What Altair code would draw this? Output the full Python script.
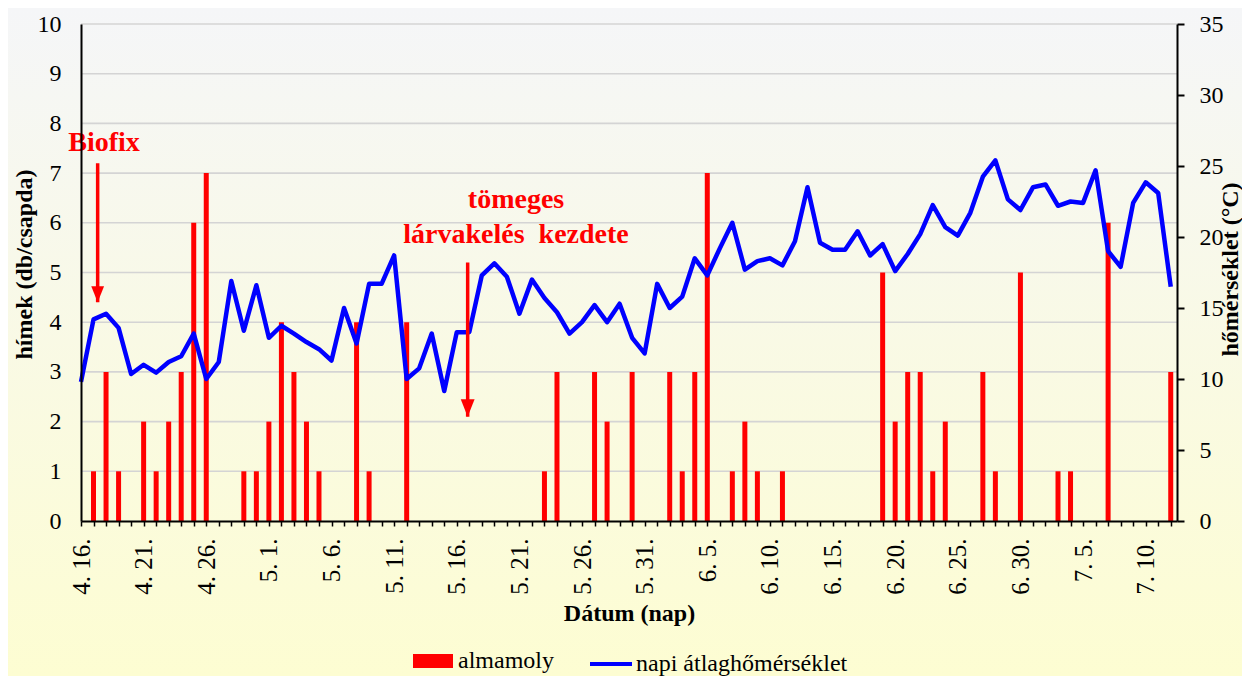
import altair as alt
import pandas as pd

# ---------------- data ----------------
start_date = "2010-04-16"
n_days = 88
day_index = list(range(n_days))
day_labels = [f"{d.month}. {d.day}." for d in pd.date_range(start_date, periods=n_days)]

# almamoly (male moths per trap) per day
moths = [0, 1, 3, 1, 0, 2, 1, 2, 3, 6,
         7, 0, 0, 1, 1, 2, 4, 3, 2, 1,
         0, 0, 4, 1, 0, 0, 4, 0, 0, 0,
         0, 0, 0, 0, 0, 0, 0, 1, 3, 0,
         0, 3, 2, 0, 3, 0, 0, 3, 1, 3,
         7, 0, 1, 2, 1, 0, 1, 0, 0, 0,
         0, 0, 0, 0, 5, 2, 3, 3, 1, 2,
         0, 0, 3, 1, 0, 5, 0, 0, 1, 1,
         0, 0, 6, 0, 0, 0, 0, 3]

# napi átlaghőmérséklet (°C)
temps = [9.8, 14.2, 14.6, 13.6, 10.35, 11.0, 10.45, 11.2, 11.6, 13.2,
         10.0, 11.2, 16.9, 13.4, 16.6, 12.9, 13.75, 13.2, 12.6, 12.1,
         11.3, 15.0, 12.5, 16.7, 16.7, 18.7, 10.0, 10.75, 13.2, 9.15,
         13.3, 13.3, 17.3, 18.15, 17.2, 14.6, 17.0, 15.7, 14.7, 13.2,
         14.0, 15.2, 14.0, 15.3, 12.9, 11.8, 16.7, 15.0, 15.8, 18.5,
         17.3, 19.2, 21.0, 17.7, 18.3, 18.5, 18.0, 19.7, 23.5, 19.6,
         19.1, 19.1, 20.4, 18.7, 19.5, 17.6, 18.8, 20.2, 22.25, 20.7,
         20.1, 21.7, 24.25, 25.4, 22.65, 21.9, 23.5, 23.7, 22.2, 22.5,
         22.4, 24.7, 19.0, 17.9, 22.4, 23.85, 23.1, 16.5]

tick_labels = ["4. 16.", "4. 21.", "4. 26.", "5. 1.", "5. 6.", "5. 11.",
               "5. 16.", "5. 21.", "5. 26.", "5. 31.", "6. 5.", "6. 10.",
               "6. 15.", "6. 20.", "6. 25.", "6. 30.", "7. 5.", "7. 10."]

left_ticks = list(range(11))
right_ticks = [0, 5, 10, 15, 20, 25, 30, 35]

series_bar = "almamoly"
series_line = "napi átlaghőmérséklet"

annot_text = ["Biofix", "tömeges", "lárvakelés\u00a0 kezdete"]
annot_x = [1.84, 34.73, 34.73]
annot_y = [7.44, 6.30, 5.59]

arrow_x = [1.33, 30.87]
arrow_top = [7.2, 5.2]
arrow_tip = [4.4, 2.1]
arrow_head = [256, 300]

# ---------------- layout ----------------
W, H = 1096, 497
PAD = {"left": 73, "top": 16, "right": 65, "bottom": 155}
FONT = "Liberation Serif"

df = pd.DataFrame({"day": day_index, "label": day_labels, "moths": moths,
                   "temp": temps, "sb": series_bar, "sl": series_line})
ann = pd.DataFrame({"x": annot_x, "y": annot_y, "t": annot_text})
arr = pd.DataFrame({"x": arrow_x, "top": arrow_top, "tip": arrow_tip, "size": arrow_head})
grid_df = pd.DataFrame({"g": left_ticks[1:]})

label_arr = "[" + ",".join(f"'{t}'" for t in tick_labels) + "]"
x_scale = alt.Scale(domain=[0, 87.5], nice=False, zero=False, padding=0)
x_axis = alt.Axis(values=day_index,
                  labelExpr=f"datum.value % 5 === 0 ? {label_arr}[datum.value / 5] : ''",
                  labelAngle=270, labelFont=FONT, labelFontSize=25, labelColor="black",
                  labelPadding=12, labelOverlap=False, labelFlush=False,
                  tickSize=5, tickColor="black", tickWidth=1.5,
                  domainColor="black", domainWidth=2, grid=False, zindex=1,
                  title="Dátum (nap)", titleFont=FONT, titleFontSize=24,
                  titleFontWeight="bold", titleColor="black",
                  titleY=99, titleBaseline="alphabetic")
X = alt.X("day:Q", scale=x_scale, axis=x_axis)

left_axis = alt.Axis(orient="left", values=left_ticks, grid=False, ticks=False, zindex=1,
                     labelPadding=20, labelFont=FONT, labelFontSize=24, labelColor="black",
                     domainColor="black", domainWidth=2,
                     title="hímek (db/csapda)", titleFont=FONT, titleFontSize=24,
                     titleFontWeight="bold", titleColor="black", titleAngle=270,
                     titleX=-50, titleY=240, titleBaseline="alphabetic", titleAlign="center")

right_axis = alt.Axis(orient="right", values=right_ticks, grid=False, zindex=1,
                      tickSize=7, tickColor="black", tickWidth=2,
                      labelPadding=15, labelFont=FONT, labelFontSize=24, labelColor="black",
                      domainColor="black", domainWidth=2,
                      title="hőmérséklet (°C)", titleFont=FONT, titleFontSize=24,
                      titleFontWeight="bold", titleColor="black", titleAngle=270,
                      titleX=60, titleY=245, titleBaseline="alphabetic", titleAlign="center")

bg = alt.Chart(pd.DataFrame({"a": [0]})).mark_rect(
    fill=alt.Gradient(gradient="linear",
                      stops=[alt.GradientStop(color="#F5F6F8", offset=0),
                             alt.GradientStop(color="#FDFDD2", offset=1)],
                      x1=0, x2=0, y1=0, y2=1),
    clip=False
).encode(x=alt.value(-PAD["left"]), x2=alt.value(W + PAD["right"]),
         y=alt.value(-PAD["top"]), y2=alt.value(H + PAD["bottom"]))

ay = alt.Scale(domain=[0, 10], nice=False)

grid = alt.Chart(grid_df).mark_rule(color="#D4D4D4", strokeWidth=1.6).encode(
    y=alt.Y("g:Q", scale=ay, axis=None),
    x=alt.value(0), x2=alt.value(W))

bars = alt.Chart(df).mark_bar(size=5).encode(
    x=X,
    y=alt.Y("moths:Q", scale=ay, axis=left_axis),
    fill=alt.Fill("sb:N", scale=alt.Scale(domain=[series_bar], range=["#FF0000"]),
                  legend=alt.Legend(title=None, orient="none", legendX=332, legendY=617,
                                    symbolType="M-1,-0.35H1V0.35H-1Z", symbolSize=1600,
                                    symbolStrokeWidth=0, labelFont=FONT, labelFontSize=24,
                                    labelColor="black", labelOffset=5, labelLimit=400))
)

line = alt.Chart(df).mark_line(strokeWidth=4.5, strokeJoin="round").encode(
    x=X,
    y=alt.Y("temp:Q", scale=alt.Scale(domain=[0, 35], nice=False), axis=right_axis),
    stroke=alt.Stroke("sl:N", scale=alt.Scale(domain=[series_line], range=["#0000FF"]),
                      legend=alt.Legend(title=None, orient="none", legendX=507, legendY=617,
                                        symbolType="stroke", symbolSize=1764,
                                        symbolStrokeWidth=4, labelFont=FONT, labelFontSize=24,
                                        labelColor="black", labelOffset=2, labelLimit=400))
)

texts = alt.Chart(ann).mark_text(font=FONT, fontSize=28, fontWeight="bold", color="#FF0000",
                                 align="center", baseline="alphabetic").encode(
    x=alt.X("x:Q", scale=x_scale, axis=x_axis),
    y=alt.Y("y:Q", scale=ay, axis=None),
    text="t:N")

shafts = alt.Chart(arr).mark_rule(color="#FF0000", strokeWidth=3.5).encode(
    x=alt.X("x:Q", scale=x_scale, axis=x_axis),
    y=alt.Y("top:Q", scale=ay, axis=None),
    y2=alt.Y2("tip:Q"))

heads = alt.Chart(arr).mark_point(shape="M-0.8,-2L0.8,-2L0,0Z", filled=True, opacity=1,
                                  color="#FF0000").encode(
    x=alt.X("x:Q", scale=x_scale, axis=x_axis),
    y=alt.Y("tip:Q", scale=ay, axis=None),
    size=alt.Size("size:Q", scale=None, legend=None))

chart = alt.layer(bg, grid, bars, line, texts, shafts, heads).resolve_scale(
    y="independent"
).properties(
    width=W, height=H, padding=PAD,
    autosize=alt.AutoSizeParams(type="none"),
    background="#FDFDD2"
).configure(font=FONT).configure_view(strokeWidth=0)

chart.save("out.html", embed_options={"renderer": "svg", "actions": False})
